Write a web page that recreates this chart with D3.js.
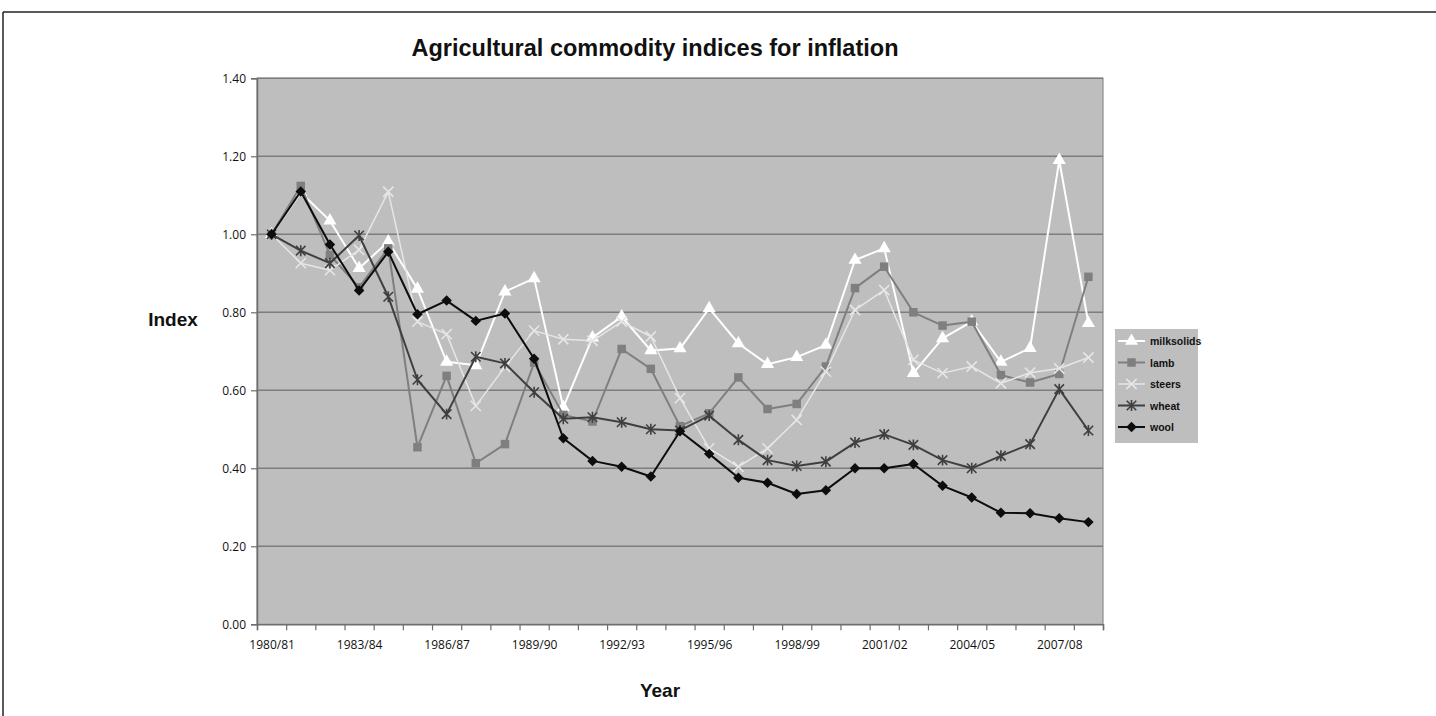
<!DOCTYPE html>
<html>
<head>
<meta charset="utf-8">
<script src="https://cdn.jsdelivr.net/npm/d3@7"></script>
<style>
  html, body { margin: 0; padding: 0; background: #ffffff; }
  svg { display: block; }
</style>
</head>
<body>
<svg id="chart" width="1436" height="716"></svg>
<script>
// Financial years on the category axis
const years = [
  "1980/81","1981/82","1982/83","1983/84","1984/85","1985/86","1986/87","1987/88",
  "1988/89","1989/90","1990/91","1991/92","1992/93","1993/94","1994/95","1995/96",
  "1996/97","1997/98","1998/99","1999/00","2000/01","2001/02","2002/03","2003/04",
  "2004/05","2005/06","2006/07","2007/08","2008/09"
];
const labelledYears = ["1980/81","1983/84","1986/87","1989/90","1992/93","1995/96","1998/99","2001/02","2004/05","2007/08"];
const yTicks = [0, 0.2, 0.4, 0.6, 0.8, 1.0, 1.2, 1.4];

// Index values (1980/81 = 1.00)
const milksolids = [1.00,1.107,1.035,0.913,0.981,0.860,0.673,0.664,0.853,0.887,0.556,0.735,0.789,0.702,0.707,0.810,0.720,0.667,0.685,0.716,0.934,0.964,0.644,0.733,0.776,0.673,0.708,1.190,0.772];
const lamb       = [1.00,1.124,0.947,0.864,0.964,0.454,0.637,0.413,0.462,0.671,0.537,0.520,0.706,0.655,0.508,0.541,0.633,0.552,0.565,0.661,0.862,0.917,0.800,0.766,0.776,0.639,0.620,0.642,0.891];
const steers     = [1.00,0.926,0.908,0.960,1.109,0.776,0.744,0.560,0.660,0.753,0.731,0.727,0.776,0.738,0.580,0.451,0.404,0.451,0.524,0.648,0.806,0.857,0.678,0.644,0.661,0.618,0.645,0.656,0.684];
const wheat      = [1.00,0.958,0.926,0.997,0.840,0.627,0.539,0.686,0.669,0.595,0.527,0.531,0.518,0.500,0.497,0.535,0.473,0.421,0.406,0.417,0.466,0.487,0.460,0.421,0.400,0.432,0.462,0.603,0.497];
const wool       = [1.00,1.110,0.974,0.856,0.955,0.795,0.830,0.778,0.797,0.681,0.477,0.419,0.404,0.379,0.495,0.437,0.376,0.363,0.334,0.344,0.400,0.400,0.411,0.355,0.325,0.286,0.285,0.272,0.262];

const seriesNames = ["milksolids","lamb","steers","wheat","wool"];
const seriesValues = [milksolids, lamb, steers, wheat, wool];

// Marker shapes in the style of a spreadsheet line chart
const starSymbol = {
  draw(ctx, size) {
    const r = Math.sqrt(size) / 2;
    ctx.moveTo(-r, -r); ctx.lineTo(r, r);
    ctx.moveTo(r, -r); ctx.lineTo(-r, r);
    ctx.moveTo(0, -r * 1.15); ctx.lineTo(0, r * 1.15);
  }
};
const squareDiamond = {
  draw(ctx, size) {
    const r = Math.sqrt(size) / 2;
    ctx.moveTo(0, -r); ctx.lineTo(r, 0); ctx.lineTo(0, r); ctx.lineTo(-r, 0); ctx.closePath();
  }
};
const styles = {
  milksolids: { stroke: "#ffffff", width: 2,   symbol: d3.symbolTriangle, size: 75, fill: "#ffffff", mstroke: "none" },
  lamb:       { stroke: "#7f7f7f", width: 2,   symbol: d3.symbolSquare,   size: 72, fill: "#7f7f7f", mstroke: "none" },
  steers:     { stroke: "#e6e6e6", width: 1.5, symbol: d3.symbolTimes,    size: 70, fill: "none",    mstroke: "#e6e6e6" },
  wheat:      { stroke: "#3f3f3f", width: 2,   symbol: starSymbol,        size: 90, fill: "none",    mstroke: "#3f3f3f" },
  wool:       { stroke: "#0d0d0d", width: 2,   symbol: squareDiamond,     size: 110, fill: "#0d0d0d", mstroke: "none" }
};

const svg = d3.select("#chart");

// Outer frame lines
svg.append("line").attr("x1", 3).attr("x2", 1436).attr("y1", 12).attr("y2", 12)
  .attr("stroke", "#222").attr("stroke-width", 1.5);
svg.append("line").attr("x1", 3).attr("x2", 3).attr("y1", 12).attr("y2", 716)
  .attr("stroke", "#222").attr("stroke-width", 1.5);

const plot = { left: 257, right: 1103, top: 78.3, bottom: 624.3 };

const x = d3.scaleBand().domain(years).range([plot.left, plot.right]).padding(0);
const xc = d => x(d) + x.bandwidth() / 2;
const xEdge = d3.scaleLinear().domain([0, years.length]).range([plot.left, plot.right]);
const y = d3.scaleLinear().domain([0, 1.4]).range([plot.bottom, plot.top]);

// Plot background
svg.append("rect")
  .attr("x", plot.left).attr("y", plot.top)
  .attr("width", plot.right - plot.left).attr("height", plot.bottom - plot.top)
  .attr("fill", "#bebebe").attr("stroke", "#8c8c8c").attr("stroke-width", 1.2);

// Horizontal gridlines
svg.append("g").selectAll("line").data(yTicks.slice(1)).join("line")
  .attr("x1", plot.left).attr("x2", plot.right)
  .attr("y1", d => y(d)).attr("y2", d => y(d))
  .attr("stroke", "#7d7d7d").attr("stroke-width", 1.5);

// Y axis
const yAxis = svg.append("g").attr("transform", `translate(${plot.left},0)`)
  .call(d3.axisLeft(y).tickValues(yTicks).tickFormat(d3.format(".2f")).tickSize(6).tickPadding(5));
yAxis.select(".domain").attr("stroke", "#6e6e6e").attr("stroke-width", 1.5);
yAxis.selectAll(".tick line").attr("stroke", "#6e6e6e").attr("stroke-width", 1.2);
yAxis.selectAll(".tick text").attr("font-family", "'Open Sans', sans-serif")
  .attr("font-size", 12).attr("fill", "#111");

// X axis: tick marks on category boundaries
const xTickAxis = svg.append("g").attr("transform", `translate(0,${plot.bottom})`)
  .call(d3.axisBottom(xEdge).tickValues(d3.range(years.length + 1)).tickSize(6).tickFormat(""));
xTickAxis.select(".domain").attr("stroke", "#6e6e6e").attr("stroke-width", 1.5);
xTickAxis.selectAll(".tick line").attr("stroke", "#6e6e6e").attr("stroke-width", 1.2);

// X axis: labels centred on categories
const xLabelAxis = svg.append("g").attr("transform", `translate(0,${plot.bottom})`)
  .call(d3.axisBottom(d3.scalePoint().domain(years).range([xc(years[0]), xc(years[years.length - 1])]))
    .tickValues(labelledYears).tickSize(0).tickPadding(16));
xLabelAxis.select(".domain").remove();
xLabelAxis.selectAll(".tick text").attr("font-family", "'Open Sans', sans-serif")
  .attr("font-size", 12).attr("fill", "#111");

// Series lines and markers
const line = d3.line().x((d, i) => xc(years[i])).y(d => y(d));
seriesNames.forEach((name, k) => {
  const st = styles[name];
  const vals = seriesValues[k];
  const g = svg.append("g").attr("class", "series-" + name);
  g.append("path").datum(vals)
    .attr("d", line).attr("fill", "none")
    .attr("stroke", st.stroke).attr("stroke-width", st.width)
    .attr("stroke-linejoin", "round");
  g.selectAll("path.marker").data(vals).join("path")
    .attr("class", "marker")
    .attr("transform", (d, i) => `translate(${xc(years[i])},${y(d)})`)
    .attr("d", d3.symbol(st.symbol, st.size))
    .attr("fill", st.fill)
    .attr("stroke", st.mstroke)
    .attr("stroke-width", 1.6);
});

// Title and axis titles
svg.append("text").attr("x", 655).attr("y", 56).attr("text-anchor", "middle")
  .attr("font-family", "'Liberation Sans', Arial, sans-serif").attr("font-weight", "bold")
  .attr("font-size", 23.5).attr("fill", "#111").text("Agricultural commodity indices for inflation");
svg.append("text").attr("x", 173).attr("y", 326).attr("text-anchor", "middle")
  .attr("font-family", "'Liberation Sans', Arial, sans-serif").attr("font-weight", "bold")
  .attr("font-size", 19).attr("fill", "#111").text("Index");
svg.append("text").attr("x", 660).attr("y", 697).attr("text-anchor", "middle")
  .attr("font-family", "'Liberation Sans', Arial, sans-serif").attr("font-weight", "bold")
  .attr("font-size", 19).attr("fill", "#111").text("Year");

// Legend
const legend = svg.append("g").attr("transform", "translate(1115,329)");
legend.append("rect").attr("x", 0).attr("y", 0).attr("width", 83).attr("height", 114)
  .attr("fill", "#bebebe");
seriesNames.forEach((name, k) => {
  const st = styles[name];
  const row = legend.append("g").attr("transform", `translate(0,${12 + k * 21.5})`);
  row.append("line").attr("x1", 3).attr("x2", 30).attr("y1", 0).attr("y2", 0)
    .attr("stroke", st.stroke).attr("stroke-width", st.width);
  row.append("path").attr("transform", "translate(16.5,0)")
    .attr("d", d3.symbol(st.symbol, st.size))
    .attr("fill", st.fill).attr("stroke", st.mstroke).attr("stroke-width", 1.6);
  row.append("text").attr("x", 35).attr("y", 4)
    .attr("font-family", "'Liberation Sans', Arial, sans-serif").attr("font-weight", "bold")
    .attr("font-size", 10.5).attr("fill", "#111").text(name);
});
</script>
</body>
</html>
